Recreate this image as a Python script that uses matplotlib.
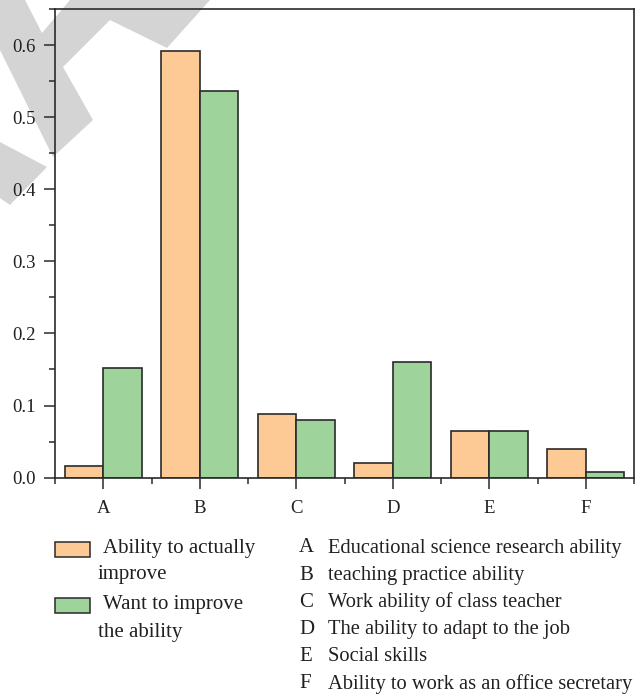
import matplotlib
matplotlib.use('Agg')
import matplotlib.pyplot as plt
from matplotlib.patches import Polygon, Rectangle
from matplotlib.ticker import MultipleLocator
import numpy as np

categories = ['A', 'B', 'C', 'D', 'E', 'F']
actual = [0.016, 0.592, 0.088, 0.020, 0.064, 0.040]
wanted = [0.152, 0.536, 0.080, 0.160, 0.064, 0.008]
series_names = ['Ability to actually\nimprove', 'Want to improve\nthe ability']
descriptions = ['Educational science research ability',
                'teaching practice ability',
                'Work ability of class teacher',
                'The ability to adapt to the job',
                'Social skills',
                'Ability to work as an office secretary']

ORANGE = '#fdc995'
GREEN = '#9fd39c'
EDGE = '#2a2a2a'
TEXT = '#231f20'

plt.rcParams['font.family'] = ['Liberation Serif', 'DejaVu Serif']
plt.rcParams['text.color'] = TEXT

W, H = 640, 696
fig = plt.figure(figsize=(W / 100, H / 100), dpi=100)


def fx(px):
    return px / W


def fy(py):
    return 1 - py / H


# grey watermark behind the plot
wm_shapes = [
    [(0, 0), (25, 0), (42, 33), (70, 0), (210, 0), (167, 48), (110, 20),
     (63, 67), (93, 120), (53, 157), (0, 50)],
    [(0, 142), (47, 167), (10, 205), (0, 198)],
]
for shape in wm_shapes:
    fig.add_artist(Polygon([(fx(x), fy(y)) for x, y in shape], closed=True,
                           transform=fig.transFigure, facecolor='#d4d4d4',
                           edgecolor='none', zorder=-1))

ax = fig.add_axes([fx(55), fy(477.6), fx(634) - fx(55), (477.6 - 9) / H])
ax.set_facecolor('none')

x = np.arange(len(categories))
width = 0.4
ax.bar(x - width / 2, actual, width, color=ORANGE, edgecolor=EDGE, linewidth=1.2, zorder=2)
ax.bar(x + width / 2, wanted, width, color=GREEN, edgecolor=EDGE, linewidth=1.2, zorder=2)

ax.set_xlim(-0.5, 5.5)
ax.set_ylim(0, 0.65)
ax.set_xticks(x)
ax.set_xticklabels(categories)
ax.xaxis.set_minor_locator(MultipleLocator(1, offset=0.5))
ax.yaxis.set_major_locator(MultipleLocator(0.1))
ax.yaxis.set_minor_locator(MultipleLocator(0.05))
ax.yaxis.set_major_formatter(matplotlib.ticker.FormatStrFormatter('%.1f'))

for side in ['left', 'right', 'top', 'bottom']:
    ax.spines[side].set_color(EDGE)
    ax.spines[side].set_linewidth(1.2)
ax.tick_params(which='major', length=8, width=1.1, color=EDGE, labelsize=13.5,
               labelcolor=TEXT, pad=6)
ax.tick_params(which='minor', length=4, width=1.1, color=EDGE)
ax.tick_params(axis='x', which='major', pad=8)

# legend with boxes
box_tops = [542, 598]
text_tops = [548, 605]
for name, color, btop, ty in zip(series_names, [ORANGE, GREEN], box_tops, text_tops):
    fig.add_artist(Rectangle((fx(55), fy(btop + 15)), 35 / W, 15 / H,
                             transform=fig.transFigure, facecolor=color,
                             edgecolor=EDGE, linewidth=1.1))
    first, second = name.split('\n')
    fig.text(fx(103), fy(ty), first, fontsize=15, va='center', ha='left')
    fig.text(fx(98), fy(ty + 27), second, fontsize=15, va='center', ha='left')

# category key
for i, (cat, desc) in enumerate(zip(categories, descriptions)):
    yy = 548 + i * 27.2
    fig.text(fx(299), fy(yy), cat, fontsize=15, va='center', ha='left')
    fig.text(fx(328), fy(yy), desc, fontsize=14.8, va='center', ha='left')

fig.savefig('out.png', dpi=100)
